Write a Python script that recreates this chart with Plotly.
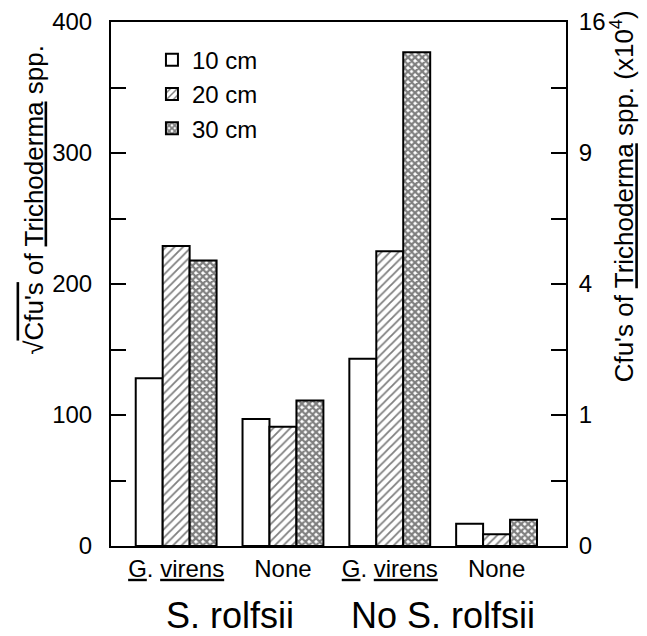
import plotly.graph_objects as go

groups = [0, 1, 2, 3]
group_labels = ["<u>G</u>. <u>virens</u>", "None", "<u>G</u>. <u>virens</u>", "None"]
series_names = ["10 cm", "20 cm", "30 cm"]
vals_10 = [128, 97, 143, 17]
vals_20 = [229, 91, 225, 9]
vals_30 = [218, 111, 377, 20]
left_ticks = [0, 100, 200, 300, 400]
right_ticktext = ["0", "1", "4", "9", "16"]
pathogen_labels = ["S. rolfsii", "No S. rolfsii"]
pathogen_pos = [0.5, 2.5]

FONT = "Liberation Sans, Arial, sans-serif"

patterns = [
    dict(shape=""),
    dict(shape="/", size=6, solidity=0.3, fgcolor="black", bgcolor="white"),
    dict(shape="x", size=5, solidity=0.7, fgcolor="black", bgcolor="white"),
]

fig = go.Figure()
for name, vals, pat in zip(series_names, [vals_10, vals_20, vals_30], patterns):
    fig.add_trace(go.Bar(
        x=groups, y=vals, name=name,
        marker=dict(color="white", line=dict(color="black", width=2), pattern=pat),
    ))
# invisible trace so the right-hand axis is drawn
fig.add_trace(go.Scatter(x=groups, y=vals_30, yaxis="y2", mode="markers",
                         marker=dict(opacity=0), showlegend=False, hoverinfo="skip"))

fig.update_layout(
    width=647, height=636,
    margin=dict(l=103, r=89, t=14, b=98),
    paper_bgcolor="white", plot_bgcolor="white",
    barmode="group", bargap=0.243, bargroupgap=0,
    font=dict(family=FONT, size=24, color="black"),
    showlegend=True,
    legend=dict(x=0.09, y=0.97, xanchor="left", yanchor="top",
                bgcolor="rgba(0,0,0,0)", font=dict(size=24), tracegroupgap=0),
    xaxis=dict(range=[-0.61, 3.65], tickvals=groups, ticktext=group_labels,
               showline=True, linecolor="black", linewidth=2, mirror=True,
               ticks="", showgrid=False, zeroline=False, automargin=False,
               tickfont=dict(size=24)),
    yaxis=dict(range=[0, 400], tickvals=left_ticks, automargin=False,
               showline=True, linecolor="black", linewidth=2,
               ticks="inside", ticklen=15, tickwidth=2, tickcolor="black",
               minor=dict(dtick=50, tick0=0, ticks="inside", ticklen=15, tickwidth=2, tickcolor="black"),
               showgrid=False, zeroline=False, tickfont=dict(size=24), ticklabelstandoff=12),
    yaxis2=dict(range=[0, 400], overlaying="y", side="right", anchor="x", automargin=False,
                tickvals=left_ticks, ticktext=right_ticktext,
                showline=True, linecolor="black", linewidth=2,
                ticks="inside", ticklen=15, tickwidth=2, tickcolor="black",
                minor=dict(dtick=50, tick0=0, ticks="inside", ticklen=15, tickwidth=2, tickcolor="black"),
                showgrid=False, zeroline=False, tickfont=dict(size=24), ticklabelstandoff=6),
)

fig.add_annotation(text="√<span style='text-decoration:overline'>Cfu's</span> of <u>Trichoderma</u> spp.",
                   xref="paper", yref="paper", x=-0.171, y=0.661, textangle=-90,
                   showarrow=False, font=dict(size=26), xanchor="center", yanchor="middle")
fig.add_annotation(text="Cfu's of <u>Trichoderma</u> spp. (x10<sup>4</sup>)",
                   xref="paper", yref="paper", x=1.125, y=0.667, textangle=-90,
                   showarrow=False, font=dict(size=26), xanchor="center", yanchor="middle")
for lab, pos in zip(pathogen_labels, pathogen_pos):
    fig.add_annotation(text=lab, xref="x", yref="paper", x=pos, y=-0.133,
                       showarrow=False, font=dict(size=36), xanchor="center", yanchor="middle")

fig.write_html("out.html")
